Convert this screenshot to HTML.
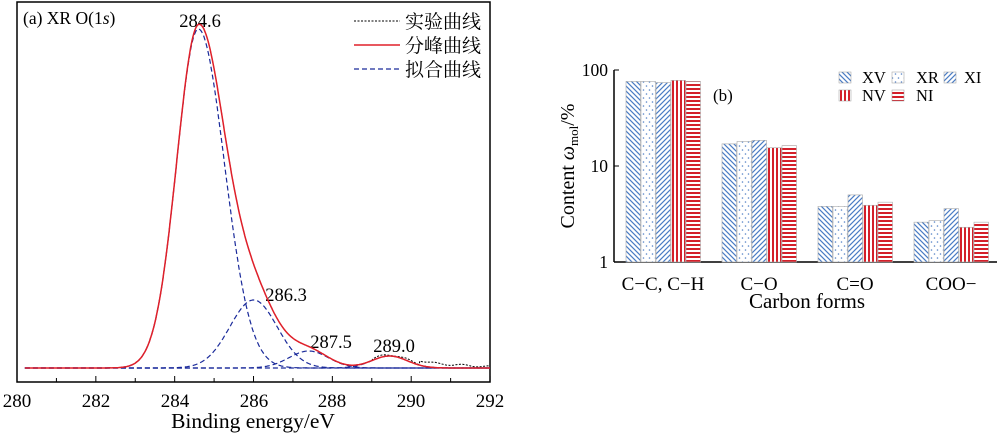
<!DOCTYPE html><html><head><meta charset="utf-8"><style>
body{margin:0;background:#fff;}
svg{display:block;font-family:"Liberation Serif","Noto Serif CJK SC",serif;}
</style></head><body>
<svg id="s" width="1000" height="433" viewBox="0 0 1000 433">
<defs>
<pattern id="pXV" width="5" height="5" patternUnits="userSpaceOnUse"><rect width="5" height="5" fill="#fff"/><path d="M0,0L5,5M-1,4L1,6M4,-1L6,1" stroke="#4a7cc4" stroke-width="1.2"/></pattern>
<pattern id="pXR" width="6" height="8" patternUnits="userSpaceOnUse"><rect width="6" height="8" fill="#fff"/><circle cx="1.5" cy="2" r="0.8" fill="#5a86c8"/><circle cx="4.5" cy="6" r="0.8" fill="#5a86c8"/></pattern>
<pattern id="pXI" width="5" height="5" patternUnits="userSpaceOnUse"><rect width="5" height="5" fill="#fff"/><path d="M0,5L5,0M-1,1L1,-1M4,6L6,4" stroke="#4a7cc4" stroke-width="1.2"/></pattern>
<pattern id="pNV" width="4" height="4" patternUnits="userSpaceOnUse"><rect width="4" height="4" fill="#fff"/><rect width="2" height="4" fill="#d4202a"/></pattern>
<pattern id="pNI" width="4" height="4" patternUnits="userSpaceOnUse"><rect width="4" height="4" fill="#fff"/><rect width="4" height="2" fill="#d4202a"/></pattern>
</defs>
<g id="left">
<rect x="17" y="2" width="473" height="380" fill="none" stroke="#000" stroke-width="1.5"/>
<text x="23" y="24" font-size="17.5">(a) XR O(1<tspan font-style="italic">s</tspan>)</text>
<text x="200" y="27" text-anchor="middle" font-size="18.5">284.6</text>
<text x="286" y="301" text-anchor="middle" font-size="18.5">286.3</text>
<text x="331" y="348" text-anchor="middle" font-size="18.5">287.5</text>
<text x="394" y="352" text-anchor="middle" font-size="18.5">289.0</text>
<line x1="354" y1="21" x2="400" y2="21" stroke="#000" stroke-dasharray="2,1.5"/>
<line x1="354" y1="45" x2="400" y2="45" stroke="#e0202a" stroke-width="1.5"/>
<line x1="354" y1="69" x2="400" y2="69" stroke="#1a2a9a" stroke-dasharray="5,3" stroke-width="1.2"/>
<text x="405" y="28" font-size="19">实验曲线</text>
<text x="405" y="52" font-size="19">分峰曲线</text>
<text x="405" y="76" font-size="19">拟合曲线</text>
<g font-size="19" text-anchor="middle">
<text x="17" y="407">280</text>
<text x="96" y="407">282</text>
<text x="175" y="407">284</text>
<text x="254" y="407">286</text>
<text x="332" y="407">288</text>
<text x="411" y="407">290</text>
<text x="490" y="407">292</text>
</g>
<text x="253" y="428" text-anchor="middle" font-size="21.5">Binding energy/eV</text>
</g>
<g id="right">
<line x1="614" y1="70" x2="614" y2="262" stroke="#000" stroke-width="1.5"/>
<line x1="614" y1="262" x2="997" y2="262" stroke="#000" stroke-width="1.5"/>
<line x1="614" y1="70" x2="619" y2="70" stroke="#000"/>
<line x1="614" y1="166" x2="619" y2="166" stroke="#000"/>
<text x="608" y="76" text-anchor="end" font-size="17.5">100</text>
<text x="608" y="172" text-anchor="end" font-size="17.5">10</text>
<text x="608" y="268" text-anchor="end" font-size="17.5">1</text>
<text transform="translate(574,166) rotate(-90)" text-anchor="middle" font-size="20">Content <tspan font-style="italic">ω</tspan><tspan font-size="13" dy="4">mol</tspan><tspan dy="-4">/%</tspan></text>
<text x="713" y="101" font-size="17">(b)</text>
<g font-size="19" text-anchor="middle">
<text x="663" y="290">C−C, C−H</text>
<text x="759" y="290">C−O</text>
<text x="855" y="290">C=O</text>
<text x="951" y="290">COO−</text>
</g>
<text x="807" y="308" text-anchor="middle" font-size="21">Carbon forms</text>
<rect x="839" y="72" width="12" height="11" fill="url(#pXV)" stroke="#999" stroke-width="0.5"/>
<text x="862" y="83" font-size="16.5">XV</text>
<rect x="892" y="72" width="12" height="11" fill="url(#pXR)" stroke="#999" stroke-width="0.5"/>
<text x="916" y="83" font-size="16.5">XR</text>
<rect x="944" y="72" width="12" height="11" fill="url(#pXI)" stroke="#999" stroke-width="0.5"/>
<text x="964" y="83" font-size="16.5">XI</text>
<rect x="839" y="90" width="12" height="11" fill="url(#pNV)" stroke="#999" stroke-width="0.5"/>
<text x="862" y="101" font-size="16.5">NV</text>
<rect x="892" y="90" width="12" height="11" fill="url(#pNI)" stroke="#999" stroke-width="0.5"/>
<text x="916" y="101" font-size="16.5">NI</text>
</g>
</svg>
<script>
var s=document.getElementById('s'),NS='http://www.w3.org/2000/svg';
function add(tag,a){var e=document.createElementNS(NS,tag);for(var k in a)e.setAttribute(k,a[k]);s.appendChild(e);return e;}
function X(e){return 17+(e-280)*39.42;}
var B=368;
function g(e,c,h,sl,sr){var sg=e<c?sl:sr;return h*Math.exp(-(e-c)*(e-c)/(2*sg*sg));}
var peaks=[[284.6,339,0.55,0.66],[286.0,68,0.6,0.6],[287.4,17,0.5,0.5],[289.45,12,0.45,0.45]];
function path(f){var d='';for(var e=280.2;e<=292;e+=0.02){d+=(d?'L':'M')+X(e).toFixed(1)+','+(B-f(e)).toFixed(1);}return d;}
peaks.forEach(function(p){add('path',{d:path(function(e){return g(e,p[0],p[1],p[2],p[3]);}),fill:'none',stroke:'#1a2a9a','stroke-width':1.2,'stroke-dasharray':'5,3'});});
function tot(e){var t=0;peaks.forEach(function(p){t+=g(e,p[0],p[1],p[2],p[3]);});return t;}
add('path',{d:path(function(e){var n=e>289?2+1.5*Math.sin(e*9):0;return tot(e)+(e>290.2?4*(292-e)/1.8:0)+n*0.6;}),fill:'none',stroke:'#000','stroke-width':1,'stroke-dasharray':'2,1.5'});
add('path',{d:path(tot),fill:'none',stroke:'#e0202a','stroke-width':1.5});
for(var i=0;i<=12;i++){var xx=X(280+i);add('line',{x1:xx,y1:382,x2:xx,y2:i%2?378:376,stroke:'#000'});}
var vals=[[76,76,74,78,76],[17,18,18.5,15.5,16.3],[3.8,3.8,5.0,3.9,4.2],[2.6,2.7,3.6,2.3,2.6]];
var pats=['pXV','pXR','pXI','pNV','pNI'];
vals.forEach(function(gv,gi){gv.forEach(function(v,bi){var y=262-96*Math.log10(v);add('rect',{x:626+gi*96+bi*15,y:y,width:14.5,height:262-y,fill:'url(#'+pats[bi]+')',stroke:'#aaa','stroke-width':0.6});});});
</script>
</body></html>
